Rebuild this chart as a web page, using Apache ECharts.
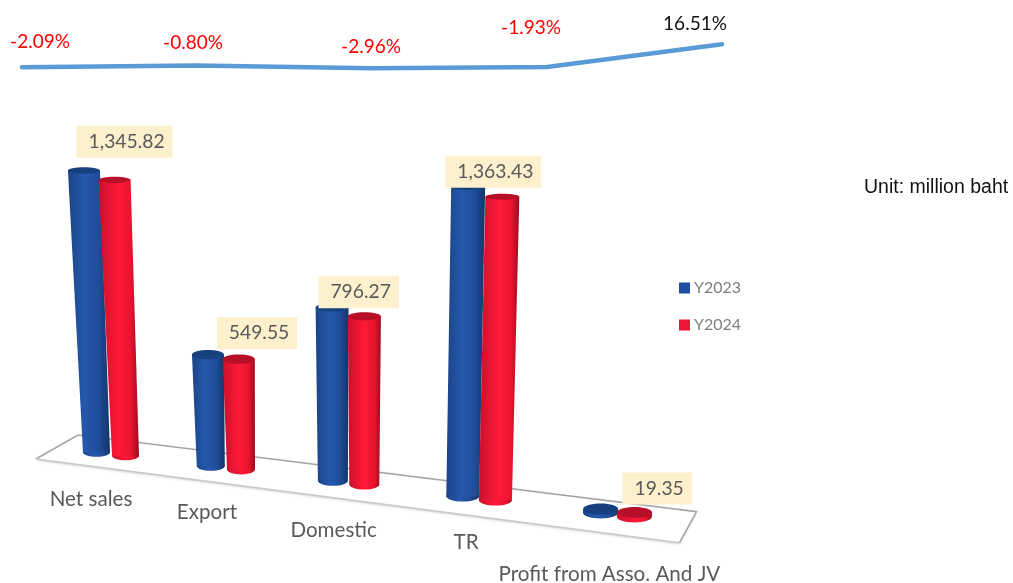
<!DOCTYPE html>
<html>
<head>
<meta charset="utf-8">
<style>
  html, body { margin: 0; padding: 0; background: #fff; }
  #chartBox { width: 1013px; height: 583px; }
</style>
</head>
<body>
<div id="chartBox"></div>
<script src="https://cdn.jsdelivr.net/npm/echarts@6/dist/echarts.min.js"></script>
<script>
var categories = ['Net sales', 'Export', 'Domestic', 'TR', 'Profit from Asso. And JV'];
var y2023 = [1374.5, 554, 820.5, 1390.3, 16.6];
var y2024 = [1345.82, 549.55, 796.27, 1363.43, 19.35];
var growthPct = [-2.09, -0.80, -2.96, -1.93, 16.51];

// fake 3d look, the tilt of the floor and the lean of the bars
var floorSlope = 0.12;
var leanK = 0.000169;
var leanCenterX = 360;
var depthScale = [1, 0.98, 1.03, 1.085, 1.09];
var baseWidth = [27, 28, 30, 33, 35];
var topWidth = [32, 32, 33, 34, 35];
// per label placement
var boxLeft = [-38, -22, -46, -57, -12];
var boxTop = [-54, -42, -40, -41, -40];
var catOffsetX = [-20, -19, -15, -13, -8];
var catOffsetY = [45, 45, 48, 44, 60];
var pctOffset = [[18, -25], [-4, -23], [-1, -21], [-16, -39], [-27, -20]];

var blueBody = [[0, '#1b4486'], [0.4, '#2558ac'], [0.75, '#1f4c97'], [1, '#143468']];
var redBody = [[0, '#c9102c'], [0.5, '#ff1a38'], [0.8, '#e8142f'], [1, '#9c0c20']];

function project(api, i, side) {
    // bar base on the tilted floor
    var origin = api.coord([0, 0]);
    var p = api.coord([i, 0]);
    var bow = -3.9 * i * (4 - i);
    var half = 14.5 + 0.6 * i;
    var x = p[0] + bow + side * half;
    return { x: x, y: p[1] + floorSlope * (x - origin[0]) };
}

function topOf(api, i, side, v) {
    var b = project(api, i, side);
    var h = api.size([0, v])[1] * depthScale[i];
    return { x: b.x - h * leanK * (leanCenterX - b.x), y: b.y - h, h: h, base: b };
}

function cylinder(side, stops, capColor) {
    return function (params, api) {
        var i = api.value(0);
        var t = topOf(api, i, side, api.value(1));
        var b = t.base;
        var bw = baseWidth[i] / 2;
        var tw = topWidth[i] / 2;
        var baseRy = 4.5 + i * 0.3;
        var topRy = Math.max(3, 5.5 - t.h / 120);
        var fill = new echarts.graphic.LinearGradient(0, 0, 1, 0, stops.map(function (s) {
            return { offset: s[0], color: s[1] };
        }));
        return {
            type: 'group',
            children: [
                { type: 'ellipse', shape: { cx: b.x, cy: b.y, rx: bw, ry: baseRy }, style: { fill: fill } },
                {
                    type: 'polygon',
                    shape: { points: [[b.x - bw, b.y], [t.x - tw, t.y], [t.x + tw, t.y], [b.x + bw, b.y]] },
                    style: { fill: fill }
                },
                { type: 'ellipse', shape: { cx: t.x, cy: t.y, rx: tw, ry: topRy }, style: { fill: capColor } }
            ]
        };
    };
}

function renderFloor(params, api) {
    var first = api.coord([0, 0]);
    var last = api.coord([4, 0]);
    last = [last[0], first[1] + floorSlope * (last[0] - first[0])];
    var backLeft = [first[0] - 33, first[1] - 19];
    var frontLeft = [first[0] - 75, first[1] + 5];
    var frontRight = [last[0] + 62, last[1] + 28];
    var backRight = [last[0] + 79, last[1] - 3];
    return {
        type: 'group',
        children: [
            {
                type: 'polygon',
                shape: { points: [backLeft, frontLeft, frontRight, backRight] },
                style: { fill: '#fff', shadowColor: 'rgba(0,0,0,0.25)', shadowBlur: 3, shadowOffsetY: 1 }
            },
            {
                type: 'polyline',
                shape: { points: [frontLeft, backLeft, backRight, frontRight] },
                style: { fill: 'none', stroke: '#a6a6a6', lineWidth: 1.6 }
            },
            {
                type: 'line',
                shape: { x1: frontLeft[0], y1: frontLeft[1], x2: frontRight[0], y2: frontRight[1] },
                style: { stroke: '#c9c9c9', lineWidth: 1.5 }
            }
        ]
    };
}

function renderValueLabel(params, api) {
    var i = api.value(0);
    var t = topOf(api, i, 1, api.value(1));
    return {
        type: 'text',
        x: t.x + boxLeft[i],
        y: t.y + boxTop[i],
        style: {
            text: echarts.format.addCommas(api.value(1).toFixed(2)),
            font: '19.3px Lato',
            fill: '#595959',
            backgroundColor: '#fdf0cd',
            padding: [6, 8, 6, 12],
            lineHeight: 20,
            align: 'left',
            verticalAlign: 'top'
        }
    };
}

function renderCatLabel(params, api) {
    var i = api.value(0);
    var b = project(api, i, 0);
    return {
        type: 'text',
        x: b.x + catOffsetX[i],
        y: b.y + catOffsetY[i],
        style: {
            text: categories[i],
            font: '20.6px Lato',
            fill: '#595959',
            align: 'center',
            verticalAlign: 'middle'
        }
    };
}

function pairs(list) {
    return list.map(function (v, i) { return [i, v]; });
}

var myChart = echarts.init(document.getElementById('chartBox'));

myChart.setOption({
    animation: false,
    backgroundColor: '#fff',
    title: {
        text: 'Unit: million baht',
        left: 859,
        top: 173,
        textStyle: { fontFamily: 'Liberation Sans', fontSize: 19.5, fontWeight: 'normal', color: '#111' }
    },
    legend: {
        orient: 'vertical',
        left: 674,
        top: 275,
        icon: 'rect',
        itemWidth: 11,
        itemHeight: 11,
        itemGap: 21,
        selectedMode: false,
        data: ['Y2023', 'Y2024'],
        textStyle: { fontFamily: 'Lato', fontSize: 16, color: '#7f7f7f', padding: [0, 0, 0, -1] }
    },
    grid: [
        { left: 22, width: 700, top: 27.5, height: 49.5 },
        { left: 47.7, width: 633, top: 146.5, height: 307.5 }
    ],
    xAxis: [
        { gridIndex: 0, type: 'category', boundaryGap: false, data: categories, show: false },
        { gridIndex: 1, type: 'category', data: categories, show: false }
    ],
    yAxis: [
        { gridIndex: 0, type: 'value', min: -10, max: 30, show: false },
        { gridIndex: 1, type: 'value', min: 0, max: 1500, show: false }
    ],
    series: [
        {
            type: 'custom',
            name: 'floor',
            xAxisIndex: 1,
            yAxisIndex: 1,
            z: 1,
            silent: true,
            clip: false,
            renderItem: renderFloor,
            data: [[0, 0]]
        },
        {
            type: 'custom',
            name: 'Y2023',
            xAxisIndex: 1,
            yAxisIndex: 1,
            z: 2,
            clip: false,
            itemStyle: { color: '#1f4ea1' },
            renderItem: cylinder(-1, blueBody, '#17407f'),
            data: pairs(y2023)
        },
        {
            type: 'custom',
            name: 'Y2024',
            xAxisIndex: 1,
            yAxisIndex: 1,
            z: 3,
            clip: false,
            itemStyle: { color: '#ee1536' },
            renderItem: cylinder(1, redBody, '#b80f28'),
            data: pairs(y2024)
        },
        {
            type: 'custom',
            name: 'values',
            xAxisIndex: 1,
            yAxisIndex: 1,
            z: 5,
            clip: false,
            renderItem: renderValueLabel,
            data: pairs(y2024)
        },
        {
            type: 'custom',
            name: 'cats',
            xAxisIndex: 1,
            yAxisIndex: 1,
            z: 5,
            clip: false,
            renderItem: renderCatLabel,
            data: categories.map(function (c, i) { return [i, 0]; })
        },
        {
            type: 'line',
            name: 'growth',
            xAxisIndex: 0,
            yAxisIndex: 0,
            symbol: 'circle',
            symbolSize: 1,
            lineStyle: { color: '#5b9bd5', width: 4.5, cap: 'round' },
            itemStyle: { color: '#5b9bd5' },
            data: growthPct.map(function (v, i) {
                return {
                    value: v,
                    label: {
                        show: true,
                        position: 'inside',
                        offset: pctOffset[i],
                        formatter: v.toFixed(2) + '%',
                        fontFamily: 'Lato',
                        fontSize: 19,
                        color: v < 0 ? '#ff0000' : '#111'
                    }
                };
            })
        }
    ]
});
</script>
</body>
</html>
